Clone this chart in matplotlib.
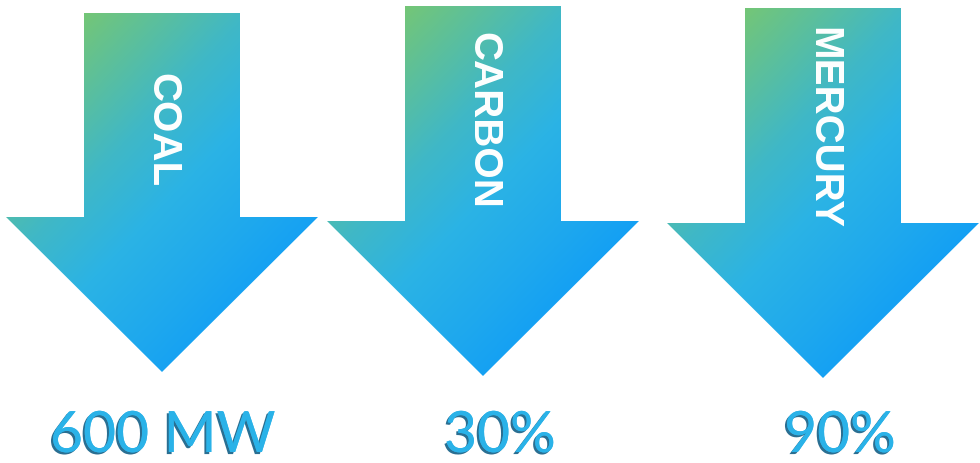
import numpy as np
import matplotlib
matplotlib.use("Agg")
import matplotlib.pyplot as plt
import matplotlib.patheffects as pe
from matplotlib.patches import Polygon
from matplotlib.colors import LinearSegmentedColormap

# ---- data ----
categories = ["COAL", "CARBON", "MERCURY"]
values = ["600 MW", "30%", "90%"]

# ---- layout (pixels, y down) ----
arrow_cx = [162, 483, 823]
shaft_top = [14, 7, 9]
head_top = [218, 222, 224]
tip_y = [373, 377, 379]
shaft_half = 78
head_half = 156
word_y = [130, 120, 128]
value_x = [163, 500, 840]
value_y = 453

W, H = 980, 464
fig = plt.figure(figsize=(W / 100, H / 100), dpi=100)
ax = fig.add_axes([0, 0, 1, 1])
ax.set_xlim(0, W); ax.set_ylim(H, 0); ax.axis("off")

cmap = LinearSegmentedColormap.from_list("arrow", [
    (0.0, "#74c677"), (0.34, "#40b8c6"), (0.55, "#2bb3e5"),
    (0.78, "#1ea8ee"), (1.0, "#0f9cf7")])

for cx, st, ht, ty in zip(arrow_cx, shaft_top, head_top, tip_y):
    pts = [(cx - shaft_half, st), (cx + shaft_half, st), (cx + shaft_half, ht),
           (cx + head_half, ht), (cx, ty), (cx - head_half, ht), (cx - shaft_half, ht)]
    poly = Polygon(pts, closed=True, fc="none", ec="none")
    ax.add_patch(poly)
    x0, x1 = cx - head_half, cx + head_half
    X, Y = np.meshgrid(np.linspace(x0, x1, 320), np.linspace(st, ty, 380))
    t = np.clip(0.0021 * (X - (cx - shaft_half)) + 0.0020 * (Y - st), 0, 1)
    im = ax.imshow(t, cmap=cmap, vmin=0, vmax=1, extent=(x0, x1, ty, st),
                   origin="upper", interpolation="bilinear", aspect="auto")
    im.set_clip_path(poly)

for cx, wy, word in zip(arrow_cx, word_y, categories):
    ax.text(cx, wy, word, rotation=-90, ha="center", va="center", color="white",
            fontsize=29, fontweight="bold", family="Liberation Sans")

for vx, val in zip(value_x, values):
    ax.text(vx, value_y, val, ha="center", va="baseline", color="#2ab2e8",
            fontsize=41, family="Lato",
            path_effects=[pe.withSimplePatchShadow(offset=(-1.5, -1.5),
                                                   shadow_rgbFace="#135f86", alpha=0.9),
                          pe.Normal()])

fig.savefig("out.png", dpi=100)
